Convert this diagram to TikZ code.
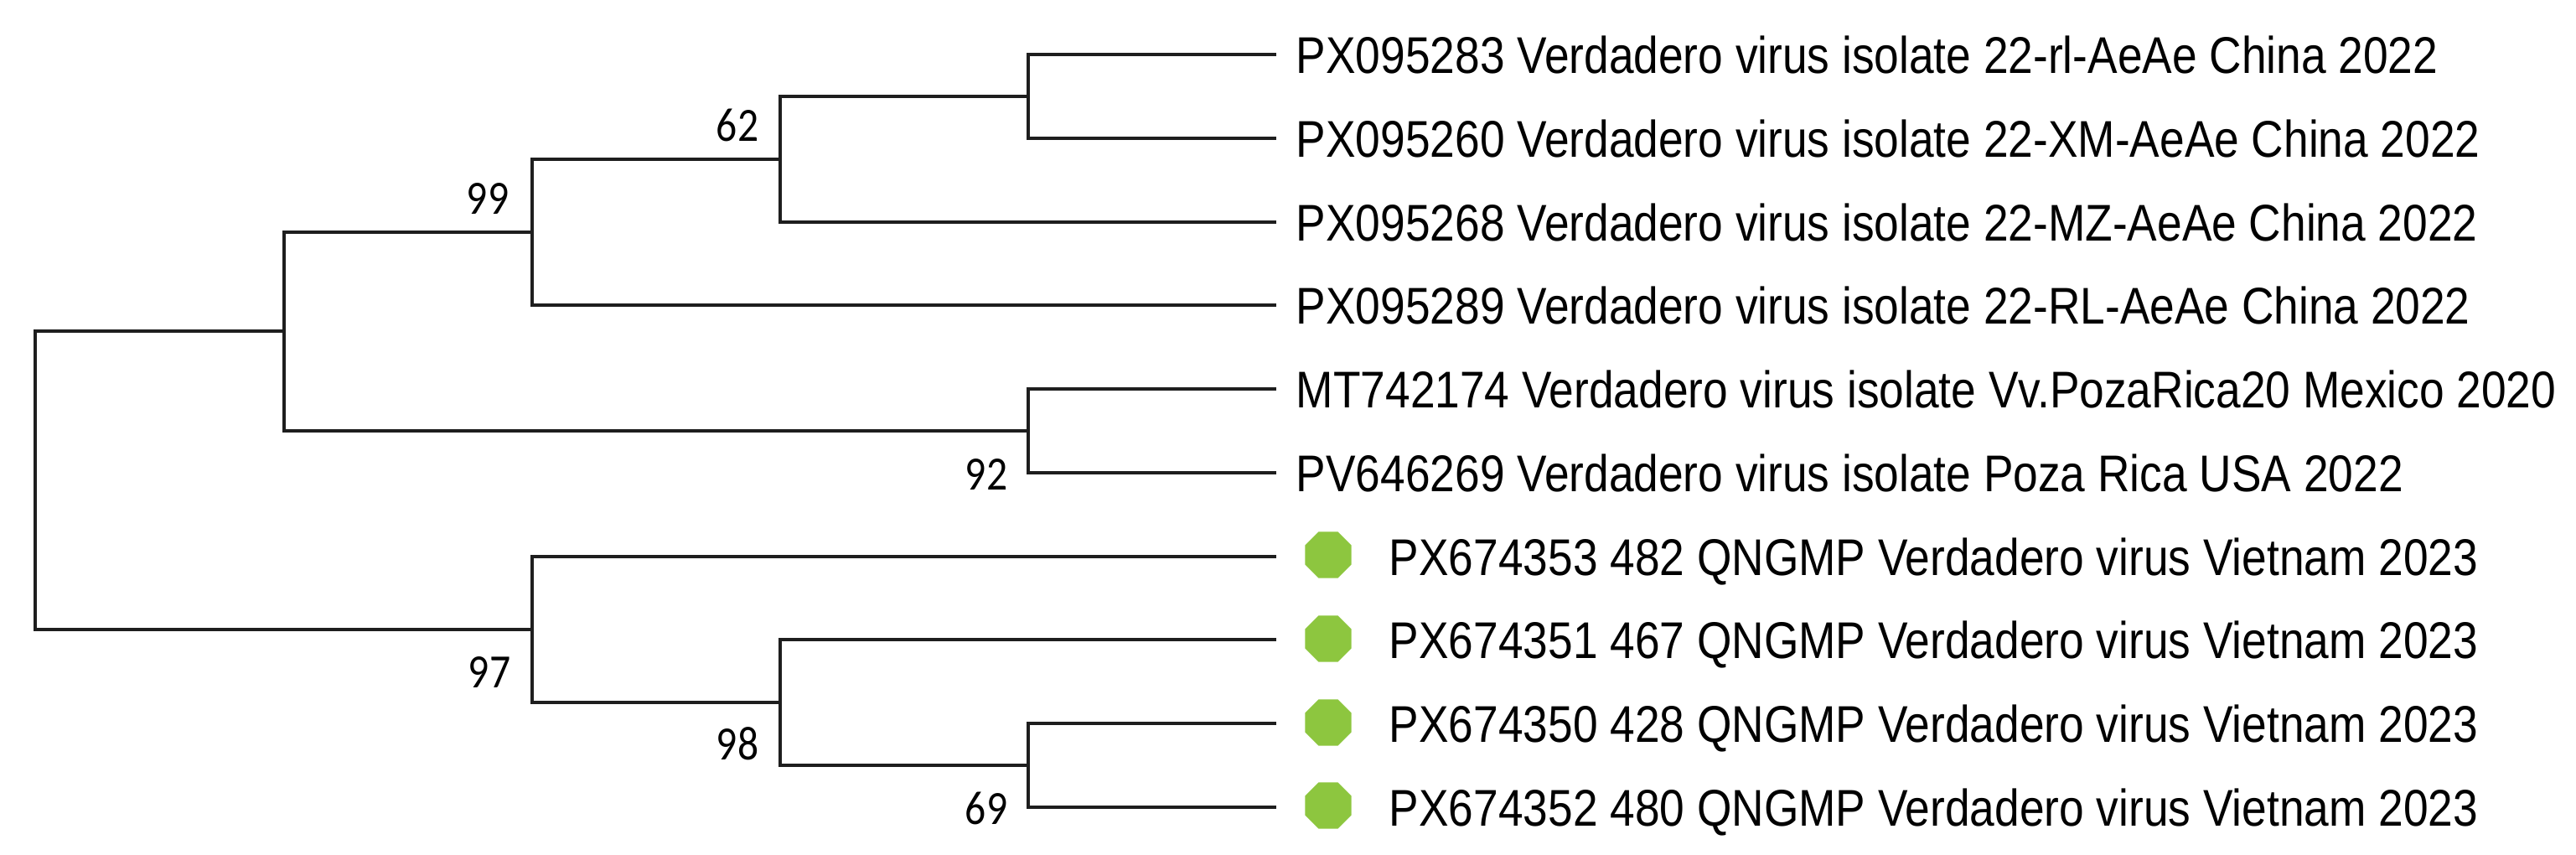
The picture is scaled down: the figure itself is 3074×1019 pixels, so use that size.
\documentclass[tikz,border=0pt]{standalone}
\usepackage{fontspec}
\setmainfont{Liberation Sans}[FakeStretch=0.865]
\newfontfamily\bsfont{Carlito}[FakeStretch=0.87]
\usetikzlibrary{shapes.geometric}
\definecolor{br}{RGB}{30,30,30}
\definecolor{mk}{RGB}{141,198,63}
\begin{document}
\begin{tikzpicture}[x=0.25pt,y=-0.25pt,
  branch/.style={draw=br,line width=1.125pt,line cap=rect,line join=miter},
  leaflab/.style={anchor=base west,inner sep=0pt,text=black,font=\fontsize{15.4pt}{18pt}\selectfont},
  boot/.style={anchor=base east,inner sep=0pt,text=black,font=\bsfont\fontsize{14.25pt}{17pt}\selectfont},
  vmark/.style={regular polygon,regular polygon sides=8,minimum size=15pt,inner sep=0pt,fill=mk,draw=none}]
\useasboundingbox (0,0) rectangle (3074,1019);
% leaf tips
\coordinate (l1) at (1521,65);
\coordinate (l2) at (1521,165);
\coordinate (l3) at (1521,265);
\coordinate (l4) at (1521,364);
\coordinate (l5) at (1521,464);
\coordinate (l6) at (1521,564);
\coordinate (l7) at (1521,664);
\coordinate (l8) at (1521,763);
\coordinate (l9) at (1521,863);
\coordinate (l10) at (1521,963);
% internal nodes
\coordinate (G) at (1227,115);
\coordinate (D) at (931,190);
\coordinate (C) at (635,277);
\coordinate (H) at (1227,514);
\coordinate (B) at (339,395);
\coordinate (I) at (1227,913);
\coordinate (F) at (931,838);
\coordinate (E) at (635,751);
\coordinate (R) at (42,395);
\coordinate (R2) at (42,751);
% branches
\draw[branch] (G) |- (l1); \draw[branch] (G) |- (l2);
\draw[branch] (D) |- (G);  \draw[branch] (D) |- (l3);
\draw[branch] (C) |- (D);  \draw[branch] (C) |- (l4);
\draw[branch] (H) |- (l5); \draw[branch] (H) |- (l6);
\draw[branch] (B) |- (C);  \draw[branch] (B) |- (H);
\draw[branch] (I) |- (l9); \draw[branch] (I) |- (l10);
\draw[branch] (F) |- (l8); \draw[branch] (F) |- (I);
\draw[branch] (E) |- (l7); \draw[branch] (E) |- (F);
\draw[branch] (B) -- (R) -- (R2) -- (E);
% leaf labels
\node[leaflab] (t1) at (1546,87) {PX095283 Verdadero virus isolate 22-rl-AeAe China 2022};
\node[leaflab] (t2) at (1546,187) {PX095260 Verdadero virus isolate 22-XM-AeAe China 2022};
\node[leaflab] (t3) at (1546,287) {PX095268 Verdadero virus isolate 22-MZ-AeAe China 2022};
\node[leaflab] (t4) at (1546,386) {PX095289 Verdadero virus isolate 22-RL-AeAe China 2022};
\node[leaflab] (t5) at (1546,486) {MT742174 Verdadero virus isolate Vv.PozaRica20 Mexico 2020};
\node[leaflab] (t6) at (1546,586) {PV646269 Verdadero virus isolate Poza Rica USA 2022};
\node[leaflab] (t7) at (1657,686) {PX674353 482 QNGMP Verdadero virus Vietnam 2023};
\node[leaflab] (t8) at (1657,785) {PX674351 467 QNGMP Verdadero virus Vietnam 2023};
\node[leaflab] (t9) at (1657,885) {PX674350 428 QNGMP Verdadero virus Vietnam 2023};
\node[leaflab] (t10) at (1657,985) {PX674352 480 QNGMP Verdadero virus Vietnam 2023};
% markers
\node[vmark] (m7) at (1585,662) {};
\node[vmark] (m8) at (1585,762) {};
\node[vmark] (m9) at (1585,862) {};
\node[vmark] (m10) at (1585,961) {};
% bootstrap values
\node[boot] (bC) at (608,255) {99};
\node[boot] (bD) at (906,168) {62};
\node[boot] (bH) at (1203,584) {92};
\node[boot] (bE) at (610,820) {97};
\node[boot] (bF) at (906,906) {98};
\node[boot] (bI) at (1203,983) {69};
\end{tikzpicture}
\end{document}
